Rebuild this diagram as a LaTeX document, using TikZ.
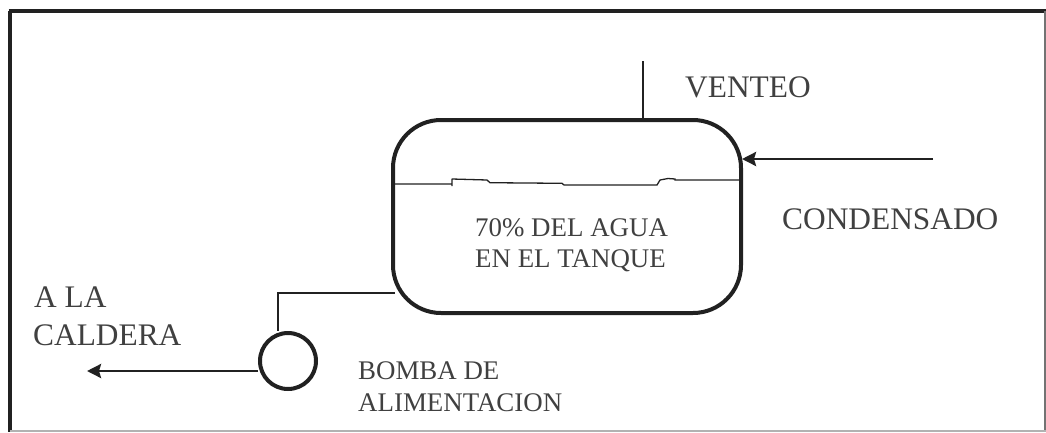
\documentclass[tikz,border=0pt]{standalone}
\usepackage{fontspec}
\setmainfont{Liberation Serif}
\usetikzlibrary{arrows.meta}
\definecolor{ink}{gray}{0.13}
\definecolor{txt}{gray}{0.25}
\tikzset{pipe/.style={draw=ink,line width=2.8bp},
 tip/.style={-{Stealth[length=14bp,width=14bp,inset=2bp]}},
 lbl/.style={inner sep=0pt,text=txt,font=\fontsize{31.5}{38}\selectfont,align=left,anchor=base west},
 slbl/.style={inner sep=0pt,text=txt,font=\fontsize{27}{31}\selectfont,align=left,anchor=base west}}
\begin{document}
\begin{tikzpicture}[x=1bp,y=-1bp]
\useasboundingbox (0,0) rectangle (1046,432);
\draw[ink,line width=4bp] (8.5,11) -- (1046,11);
\draw[ink,line width=4bp] (10,11) -- (10,432);
\draw[black!55,line width=2bp] (1044.5,11) -- (1044.5,432);
\draw[black!30,line width=1.5bp] (10,431) -- (1046,431);
\node[draw=ink,line width=4bp,rounded corners=48bp,minimum width=348bp,minimum height=193bp,inner sep=0pt] (tank) at (567,216.5) {};
\coordinate (vtop) at (643,61);
\draw[pipe] (vtop) -- (tank.north -| vtop);
\node[lbl] (v) at (685,97) {VENTEO};
\coordinate (cin) at (933,159);
\coordinate (cend) at (742,159);
\draw[pipe,tip] (cin) -- (cend);
\node[lbl] (c) at (782,229) {CONDENSADO};
\draw[ink,line width=1.3bp] (395,184) -- (452,184) (452,178.5) -- (452,186) (452,179) -- (487,180) -- (490,182.7) -- (562,183.3) -- (564,185) -- (657,185) -- (660,180) -- (668,178.5) -- (675,179) -- (675,180) -- (740,180);
\node[slbl] (t) at (475,236) {70\% DEL AGUA};
\node[slbl] (t2) at (475,267) {EN EL TANQUE};
\node[draw=ink,line width=4bp,circle,minimum size=56bp,inner sep=0pt] (p) at (288,361) {};
\coordinate (elbow) at (278,293);
\coordinate (tout) at (395,293);
\draw[pipe] (tout) -- (elbow) -- (p.north -| elbow);
\coordinate (outend) at (87,371);
\draw[pipe,tip] (p.west |- outend) -- (outend);
\node[lbl] (a) at (34,307) {A LA};
\node[lbl] (a2) at (33,345) {CALDERA};
\node[slbl] (b) at (358,379) {BOMBA DE};
\node[slbl] (b2) at (358,411) {ALIMENTACION};
\end{tikzpicture}
\end{document}
